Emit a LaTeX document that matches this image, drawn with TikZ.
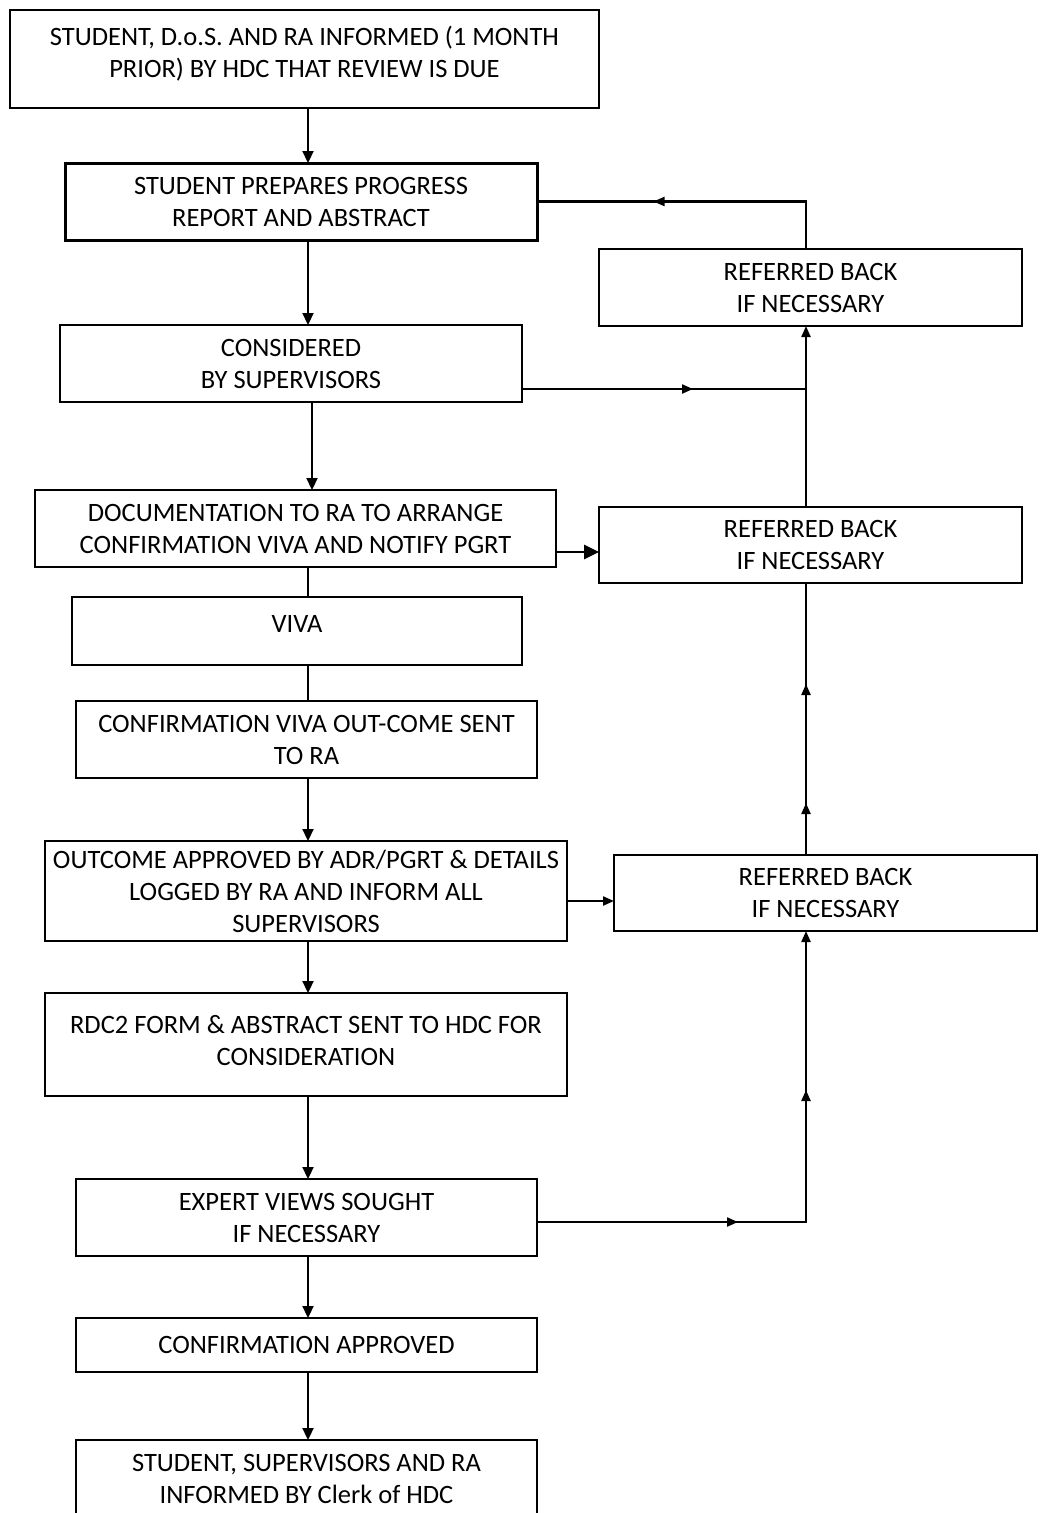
\documentclass[tikz,border=0pt]{standalone}
\usepackage{fontspec}
\setmainfont{Carlito}
\usetikzlibrary{arrows.meta,decorations.markings,calc}
\newcommand\flowbox[7]{\node[box,minimum width={(#4-#2)*1pt},minimum height={(#5-#3)*1pt},#6] (#1) at ({(#2+#4)/2},{(#3+#5)/2}) {#7};}
\begin{document}
\begin{tikzpicture}[x=1pt,y=-1pt,
  box/.style={draw,line width=2pt,align=center,inner sep=0pt,outer sep=0pt,
    font=\fontsize{26.5}{32}\selectfont},
  conn/.style={line width=2.2pt},
  mtip/.tip={Triangle[length=11pt,width=9pt]},
  vtip/.tip={Triangle[length=12pt,width=11pt]},
  btip/.tip={Triangle[length=15pt,width=14pt]},
  marks/.style={postaction={decorate},decoration={markings,#1}}]
\useasboundingbox (0,0) rectangle (1046,1513);
\clip (0,0) rectangle (1046,1513);
\fill[white] (0,0) rectangle (1046,1513);

\flowbox{top}{10}{10}{599}{108}{line width=2.4pt,text depth=15pt}{STUDENT, D.o.S. AND RA INFORMED (1 MONTH\\PRIOR) BY HDC THAT REVIEW IS DUE}
\flowbox{prep}{65}{163}{537}{240}{line width=3pt}{STUDENT PREPARES PROGRESS\\REPORT AND ABSTRACT}
\flowbox{rone}{599}{249}{1022}{326}{}{REFERRED BACK\\IF NECESSARY}
\flowbox{cons}{60}{325}{522}{402}{}{CONSIDERED\\BY SUPERVISORS}
\flowbox{doc}{35}{490}{556}{567}{}{DOCUMENTATION TO RA TO ARRANGE\\CONFIRMATION VIVA AND NOTIFY PGRT}
\flowbox{rtwo}{599}{507}{1022}{583}{}{REFERRED BACK\\IF NECESSARY}
\flowbox{viva}{72}{597}{522}{665}{text depth=14pt}{VIVA}
\flowbox{cvo}{76}{701}{537}{778}{}{CONFIRMATION VIVA OUT-COME SENT\\TO RA}
\flowbox{out}{45}{841}{567}{941}{}{OUTCOME APPROVED BY ADR/PGRT \& DETAILS\\LOGGED BY RA AND INFORM ALL\\SUPERVISORS}
\flowbox{rthree}{614}{855}{1037}{931}{}{REFERRED BACK\\IF NECESSARY}
\flowbox{rdc}{45}{993}{567}{1096}{text depth=8pt}{RDC2 FORM \& ABSTRACT SENT TO HDC FOR\\CONSIDERATION}
\flowbox{exp}{76}{1179}{537}{1256}{}{EXPERT VIEWS SOUGHT\\IF NECESSARY}
\flowbox{conf}{76}{1318}{537}{1372}{}{CONFIRMATION APPROVED}
\flowbox{inf}{76}{1440}{537}{1517}{}{STUDENT, SUPERVISORS AND RA\\INFORMED BY Clerk of HDC}

\coordinate (mx) at (308,0);
\coordinate (mxb) at (312,0);
\coordinate (rx) at (806,0);
\coordinate (jc) at (806,389);
\coordinate (yd) at (0,552);
\coordinate (yo) at (0,901);
\coordinate (ye) at (0,1222);

% main column
\draw[conn,-vtip] (top.south -| mx) -- (prep.north -| mx);
\draw[conn,-vtip] (prep.south -| mx) -- (cons.north -| mx);
\draw[conn,-vtip] (cons.south -| mxb) -- (doc.north -| mxb);
\draw[conn] (doc.south -| mx) -- (viva.north -| mx);
\draw[conn] (viva.south -| mx) -- (cvo.north -| mx);
\draw[conn,-vtip] (cvo.south -| mx) -- (out.north -| mx);
\draw[conn,-vtip] (out.south -| mx) -- (rdc.north -| mx);
\draw[conn,-vtip] (rdc.south -| mx) -- (exp.north -| mx);
\draw[conn,-vtip] (exp.south -| mx) -- (conf.north -| mx);
\draw[conn,-vtip] (conf.south -| mx) -- (inf.north -| mx);

% right side loops
\draw[conn,marks={mark=at position 200pt with {\arrow{mtip}}}]
  (rone.north -| rx) |- (prep.east);
\draw[conn,marks={mark=at position 171pt with {\arrow{mtip}}}]
  (cons.east |- jc) -- (jc);
\draw[conn,-mtip] (rtwo.north -| rx) -- (rone.south -| rx);
\draw[line width=2.8pt,-btip] (doc.east |- yd) -- (rtwo.west |- yd);
\draw[conn,marks={mark=at position 52pt with {\arrow{mtip}},mark=at position 171pt with {\arrow{mtip}}}]
  (rthree.north -| rx) -- (rtwo.south -| rx);
\draw[conn,-mtip] (out.east |- yo) -- (rthree.west |- yo);
\draw[conn,-mtip,marks={mark=at position 201pt with {\arrow{mtip}},mark=at position 401pt with {\arrow{mtip}}}]
  (exp.east |- ye) -| (rthree.south -| rx);
\end{tikzpicture}
\end{document}
